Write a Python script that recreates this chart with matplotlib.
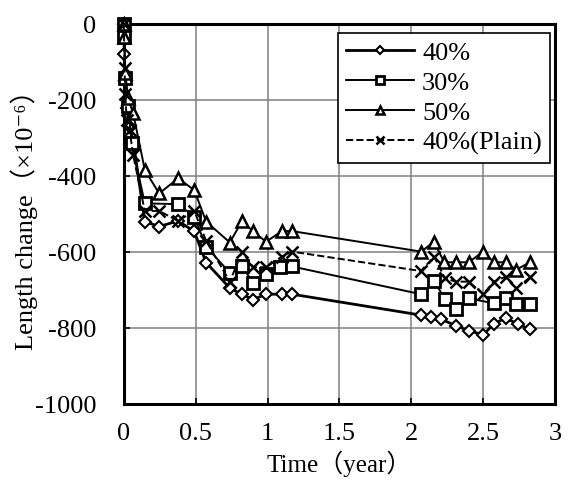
import matplotlib
matplotlib.use("Agg")
import matplotlib.pyplot as plt

plt.rcParams['font.family'] = ['Liberation Serif', 'Noto Sans CJK JP', 'DejaVu Sans']
plt.rcParams['axes.unicode_minus'] = False

# 40%
t40 = [0, 0.003, 0.01, 0.02, 0.04, 0.07, 0.146, 0.246, 0.378, 0.49, 0.573, 0.738, 0.82, 0.90,
       0.99, 1.10, 1.17, 2.067, 2.14, 2.21, 2.31, 2.40, 2.50, 2.575, 2.656, 2.74, 2.825]
y40 = [0, -79, -150, -220, -270, -320, -520, -533, -518, -546, -628, -695, -711, -725,
       -711, -711, -711, -766, -770, -777, -794, -807, -818, -789, -774, -789, -803]

# 30%
t30 = [0, 0.003, 0.01, 0.03, 0.054, 0.146, 0.378, 0.49, 0.573, 0.738, 0.823, 0.90, 0.99,
       1.09, 1.17, 2.067, 2.16, 2.234, 2.31, 2.40, 2.575, 2.656, 2.73, 2.825]
y30 = [0, -35, -142, -215, -314, -472, -474, -507, -586, -655, -638, -681, -658,
       -640, -638, -711, -676, -724, -751, -722, -735, -722, -738, -738]

# 50%
t50 = [0, 0.003, 0.01, 0.03, 0.065, 0.146, 0.246, 0.378, 0.49, 0.573, 0.738, 0.823, 0.90,
       0.99, 1.10, 1.17, 2.07, 2.157, 2.23, 2.31, 2.40, 2.50, 2.575, 2.656, 2.73, 2.825]
y50 = [0, -35, -130, -195, -235, -384, -446, -406, -437, -520, -575, -518, -546,
       -573, -545, -545, -599, -573, -627, -627, -627, -599, -627, -627, -647, -627]

# 40% (Plain)
tp = [0, 0.005, 0.01, 0.02, 0.04, 0.065, 0.146, 0.246, 0.378, 0.49, 0.573, 0.738, 0.823,
      0.90, 0.99, 1.10, 1.17, 2.067, 2.16, 2.234, 2.31, 2.40, 2.50, 2.575, 2.656, 2.73, 2.825]
yp = [0, -116, -184, -253, -279, -345, -492, -492, -518, -492, -571, -678, -599,
      -640, -640, -612, -599, -650, -612, -669, -678, -678, -711, -678, -665, -696, -667]

fig = plt.figure(figsize=(5.68, 4.90), dpi=100)
ax = fig.add_axes([0.218, 0.1755, 0.759, 0.7755])

ax.plot(t40, y40, color='k', lw=2.0, marker='D', ms=6, mfc='white', mec='k', mew=1.5,
        label='40%', clip_on=False, zorder=4)
ax.plot(t30, y30, color='k', lw=1.4, marker='s', ms=8, mfc='white', mec='k', mew=2,
        label='30%', clip_on=False, zorder=4)
ax.plot(t50, y50, color='k', lw=1.4, marker='^', ms=8, mfc='white', mec='k', mew=1.8,
        label='50%', clip_on=False, zorder=4)
ax.plot(tp, yp, color='k', lw=1.4, ls='--', marker='x', ms=8, mec='k', mew=1.8,
        label='40%(Plain)', clip_on=False, zorder=4)

ax.set_xlim(0, 3)
ax.set_ylim(-1000, 0)
ax.set_xticks([0, 0.5, 1, 1.5, 2, 2.5, 3])
ax.set_xticklabels(['0', '0.5', '1', '1.5', '2', '2.5', '3'])
ax.set_yticks([0, -200, -400, -600, -800, -1000])
ax.grid(True, color='#808080', lw=1.1)
ax.set_axisbelow(True)
for s in ax.spines.values():
    s.set_linewidth(2.2)
ax.tick_params(direction='in', length=4, width=1.2, labelsize=19)
ax.tick_params(axis='y', pad=20)
ax.tick_params(axis='x', pad=14)

ax.set_xlabel('Time（year）', fontsize=18, labelpad=4)
ax.set_ylabel('Length change（×10⁻⁶）', fontsize=19)
ax.yaxis.set_label_coords(-0.2, 0.5)

leg = ax.legend(loc='upper right', fontsize=19, frameon=True, fancybox=False,
                edgecolor='k', framealpha=1, handlelength=2.6, markerscale=0.7,
                borderpad=0.3, labelspacing=0.25, handletextpad=0.3,
                borderaxespad=0, bbox_to_anchor=(0.988, 0.976))
leg.get_frame().set_linewidth(1.2)

fig.savefig('out.png', dpi=100)
